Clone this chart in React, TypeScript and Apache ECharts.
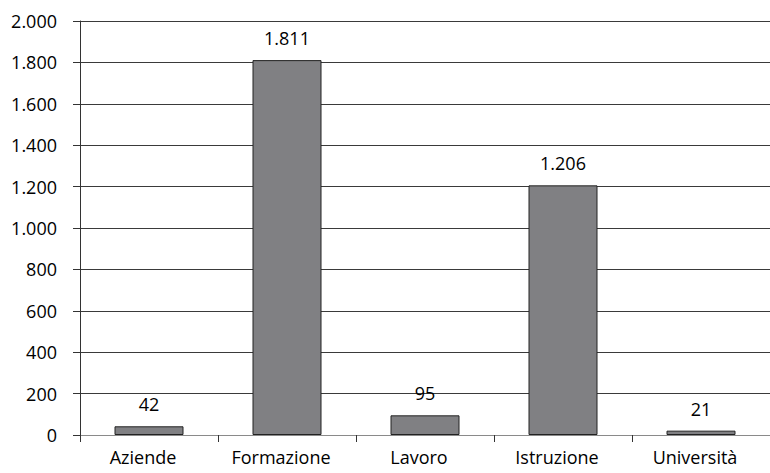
import React, { useEffect, useRef } from "react";
import * as echarts from "echarts";

const categories = ["Aziende", "Formazione", "Lavoro", "Istruzione", "Università"];
const values = [42, 1811, 95, 1206, 21];
const yMin = 0;
const yMax = 2000;
const yStep = 200;

const fmt = (v: number) => String(v).replace(/\B(?=(\d{3})+(?!\d))/g, ".");

export default function App() {
  const ref = useRef<HTMLDivElement>(null);
  useEffect(() => {
    if (!ref.current) return;
    const chart = echarts.init(ref.current, null, { renderer: "svg" });
    const font = "Open Sans";
    const size = 18;
    chart.setOption({
      animation: false,
      grid: { left: 80, right: 0, top: 21, bottom: 38, containLabel: false },
      xAxis: {
        type: "category",
        data: categories,
        axisLine: { lineStyle: { color: "#8a8a8a", width: 1 } },
        axisTick: { show: true, length: 7, lineStyle: { color: "#333" } },
        axisLabel: {
          color: "#000",
          fontFamily: font,
          fontSize: size,
          margin: 13,
          padding: [0, 12, 0, 0],
        },
      },
      yAxis: {
        type: "value",
        min: yMin,
        max: yMax,
        interval: yStep,
        axisLine: { show: true, lineStyle: { color: "#333" } },
        axisTick: { show: true, length: 7, lineStyle: { color: "#333" } },
        splitLine: { show: true, lineStyle: { color: "#3a3a3a", width: 1 } },
        axisLabel: {
          color: "#000",
          fontFamily: font,
          fontSize: size,
          margin: 23,
          formatter: (v: number) => fmt(v),
        },
      },
      series: [
        {
          type: "bar",
          data: values,
          barWidth: "50%",
          itemStyle: { color: "#808083", borderColor: "#222", borderWidth: 1 },
          label: {
            show: true,
            position: "top",
            distance: 13,
            color: "#000",
            fontFamily: font,
            fontSize: size,
            formatter: (p: any) => fmt(p.value),
          },
        },
      ],
    });
    return () => chart.dispose();
  }, []);
  return <div ref={ref} style={{ width: 770, height: 473, position: "absolute", left: 0, top: 0 }} />;
}
